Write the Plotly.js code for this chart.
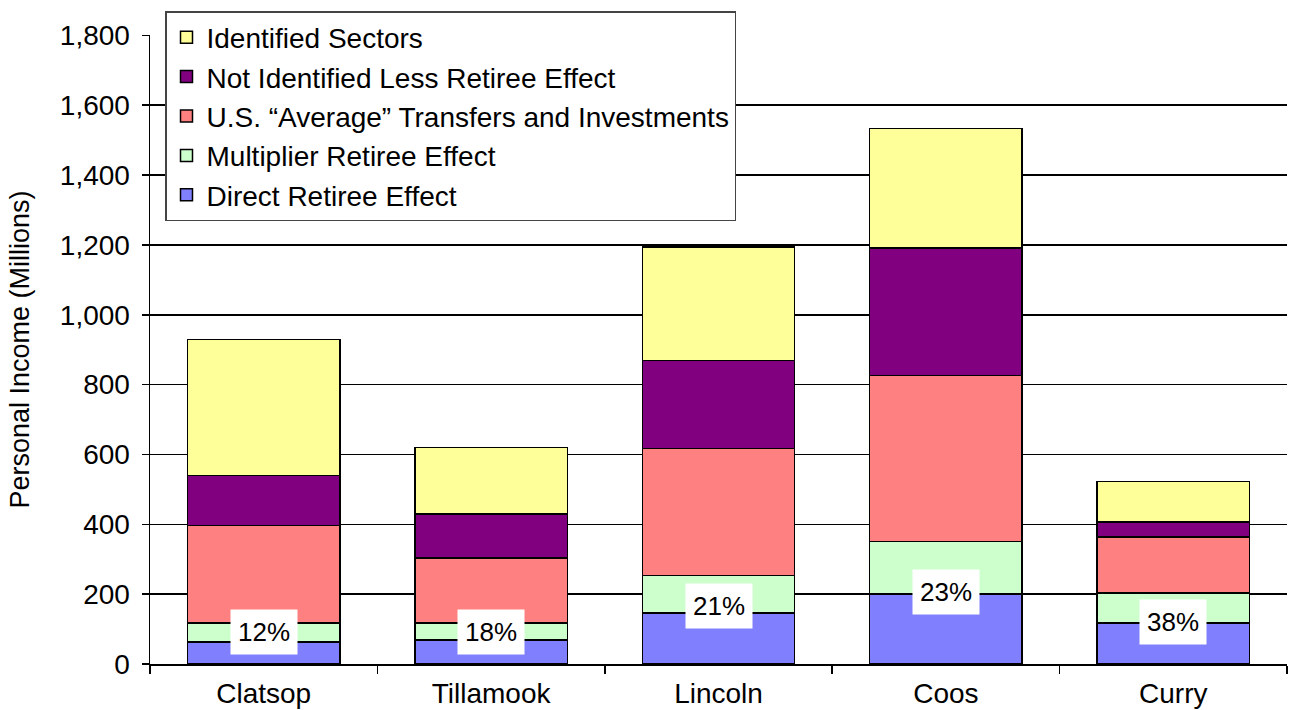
<!DOCTYPE html>
<html>
<head>
<meta charset="utf-8">
<script src="https://cdn.plot.ly/plotly-3.0.1.min.js"></script>
<style>html,body{margin:0;padding:0;background:#fff;}#chart{width:1289px;height:710px;}</style>
</head>
<body>
<div id="chart"></div>
<script>
const counties = ["Clatsop", "Tillamook", "Lincoln", "Coos", "Curry"];
const directRetiree = [63, 69, 146, 200, 117];
const multiplierRetiree = [54, 48, 108, 151, 86];
const usAverage = [280, 186, 363, 475, 160];
const notIdentified = [143, 126, 252, 365, 43];
const identifiedSectors = [389, 191, 325, 343, 117];
const retireeShareLabels = ["12%", "18%", "21%", "23%", "38%"];
const labelY = [91, 91, 166, 206, 120];

const seriesNames = ["Direct Retiree Effect", "Multiplier Retiree Effect", "U.S. \u201cAverage\u201d Transfers and Investments", "Not Identified Less Retiree Effect", "Identified Sectors"];
const seriesValues = [directRetiree, multiplierRetiree, usAverage, notIdentified, identifiedSectors];
const seriesColors = ["#8080FF", "#CCFFCC", "#FF8080", "#800080", "#FFFF99"];

const font = "Liberation Sans, Arial, sans-serif";
const traces = seriesNames.map((n, i) => ({
  type: "bar", name: n, x: counties, y: seriesValues[i],
  marker: {color: seriesColors[i], line: {color: "#000", width: 1.5}},
  width: 0.67, hoverinfo: "none"
}));

const annotations = counties.map((c, i) => ({
  x: c, y: labelY[i], xref: "x", yref: "y", text: retireeShareLabels[i],
  showarrow: false, bgcolor: "#fff", borderpad: 7,
  font: {family: font, size: 26, color: "#000"}
}));

const layout = {
  width: 1289, height: 710,
  margin: {l: 150, r: 2, t: 35, b: 46},
  barmode: "stack", bargap: 0.33,
  paper_bgcolor: "#fff", plot_bgcolor: "#fff",
  font: {family: font, size: 28, color: "#000"},
  showlegend: true,
  legend: {
    bgcolor: "#fff", bordercolor: "#444", borderwidth: 1.5,
    traceorder: "reversed",
    font: {family: font, size: 28, color: "#000"}, tracegroupgap: 0,
    itemwidth: 30
  },
  xaxis: {
    type: "category", range: [-0.5, 4.5], showgrid: false,
    showline: true, linecolor: "#000", linewidth: 1.5,
    ticks: "outside", tickson: "boundaries", ticklen: 8, tickcolor: "#000", tickwidth: 1.5,
    tickfont: {family: font, size: 28}, zeroline: false, ticklabelstandoff: 4
  },
  yaxis: {
    range: [0, 1801], tickvals: [0,200,400,600,800,1000,1200,1400,1600,1800],
    ticktext: ["0","200","400","600","800","1,000","1,200","1,400","1,600","1,800"],
    showgrid: true, gridcolor: "#000", gridwidth: 1.5,
    showline: true, linecolor: "#000", linewidth: 1.5,
    ticks: "outside", ticklen: 7, tickcolor: "#000", tickwidth: 1.5,
    tickfont: {family: font, size: 28}, zeroline: false, ticklabelstandoff: 6,
    title: {text: "Personal Income (Millions)", font: {family: font, size: 27}, standoff: 22}
  },
  annotations: annotations
};
const plotW = 1289 - 150 - 2, plotH = 710 - 35 - 46;
layout.legend.x = (165 - 150) / plotW;
layout.legend.y = 1 + (35 - 11) / plotH;
layout.legend.xanchor = "left"; layout.legend.yanchor = "top";

Plotly.newPlot("chart", traces, layout, {displayModeBar: false, staticPlot: true});
</script>
</body>
</html>
